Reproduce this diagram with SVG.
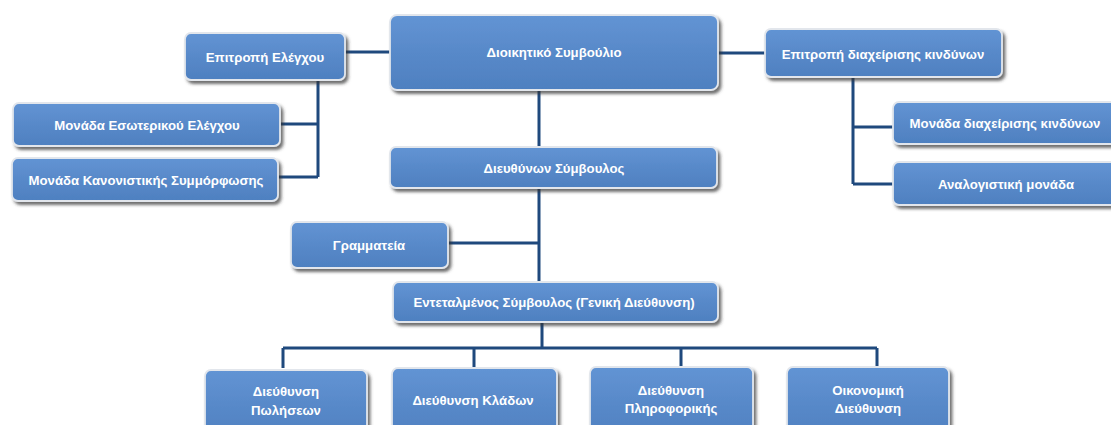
<svg xmlns="http://www.w3.org/2000/svg" width="1111" height="425" viewBox="0 0 1111 425">
<style>
.box{fill:url(#g);stroke:#e2e6ec;stroke-width:1.8;filter:url(#sh)}
.t{font-family:"Liberation Sans",Arial,sans-serif;font-weight:bold;font-size:13.2px;fill:#ffffff;text-anchor:middle;dominant-baseline:central}
.c{fill:none;stroke:#1f497d;stroke-width:3}
</style>
<defs>
<linearGradient id="g" x1="0" y1="0" x2="0" y2="1">
<stop offset="0" stop-color="#6294d4"/>
<stop offset="0.5" stop-color="#5889c9"/>
<stop offset="1" stop-color="#4e80c0"/>
</linearGradient>
<filter id="sh" x="-10%" y="-20%" width="125%" height="150%">
<feDropShadow dx="2.5" dy="3" stdDeviation="1.6" flood-color="#333333" flood-opacity="0.7"/>
</filter>
</defs>
<rect width="1111" height="425" fill="#ffffff"/>
<g id="connectors">
<path class="c" d="M345 52H390"/>
<path class="c" d="M717 53H765"/>
<path class="c" d="M318 80V177M280 124H318M278 177H318"/>
<path class="c" d="M853 77V184M853 127H893M853 184H893"/>
<path class="c" d="M539 90V147"/>
<path class="c" d="M539 188V282M448 243H539"/>
<path class="c" d="M542 322V348M283 348H877M283 348V368M474 348V368M681 348V367M877 348V367"/>
</g>
<g id="n1"><rect class="box" x="390" y="15" width="328" height="75" rx="7"/><text class="t" x="554" y="52">Διοικητικό Συμβούλιο</text></g>
<g id="n2"><rect class="box" x="185" y="33" width="160" height="47" rx="6"/><text class="t" x="265" y="57">Επιτροπή Ελέγχου</text></g>
<g id="n3"><rect class="box" x="765" y="29" width="237" height="48" rx="6"/><text class="t" x="883" y="54">Επιτροπή διαχείρισης κινδύνων</text></g>
<g id="n4"><rect class="box" x="13" y="103" width="267" height="43" rx="6"/><text class="t" x="147" y="125">Μονάδα Εσωτερικού Ελέγχου</text></g>
<g id="n5"><rect class="box" x="12" y="158" width="266" height="43" rx="6"/><text class="t" x="146" y="180">Μονάδα Κανονιστικής Συμμόρφωσης</text></g>
<g id="n6"><rect class="box" x="390" y="147" width="327" height="41" rx="6"/><text class="t" x="554" y="168">Διευθύνων Σύμβουλος</text></g>
<g id="n7"><rect class="box" x="893" y="102" width="224" height="42" rx="6"/><text class="t" x="1005" y="123">Μονάδα διαχείρισης κινδύνων</text></g>
<g id="n8"><rect class="box" x="893" y="162" width="224" height="43" rx="6"/><text class="t" x="1006" y="184">Αναλογιστική μονάδα</text></g>
<g id="n9"><rect class="box" x="291" y="222" width="157" height="46" rx="6"/><text class="t" x="369" y="245">Γραμματεία</text></g>
<g id="n10"><rect class="box" x="393" y="282" width="325" height="40" rx="6"/><text class="t" x="554" y="302">Εντεταλμένος Σύμβουλος (Γενική Διεύθυνση)</text></g>
<g id="n11"><rect class="box" x="205" y="370" width="162" height="70" rx="6"/><text class="t" x="286" y="391">Διεύθυνση</text><text class="t" x="286" y="410">Πωλήσεων</text></g>
<g id="n12"><rect class="box" x="392" y="368" width="165" height="72" rx="6"/><text class="t" x="473" y="400">Διεύθυνση Κλάδων</text></g>
<g id="n13"><rect class="box" x="590" y="367" width="163" height="73" rx="6"/><text class="t" x="671" y="390">Διεύθυνση</text><text class="t" x="671" y="408">Πληροφορικής</text></g>
<g id="n14"><rect class="box" x="787" y="367" width="162" height="73" rx="6"/><text class="t" x="868" y="390">Οικονομική</text><text class="t" x="868" y="408">Διεύθυνση</text></g>
</svg>
